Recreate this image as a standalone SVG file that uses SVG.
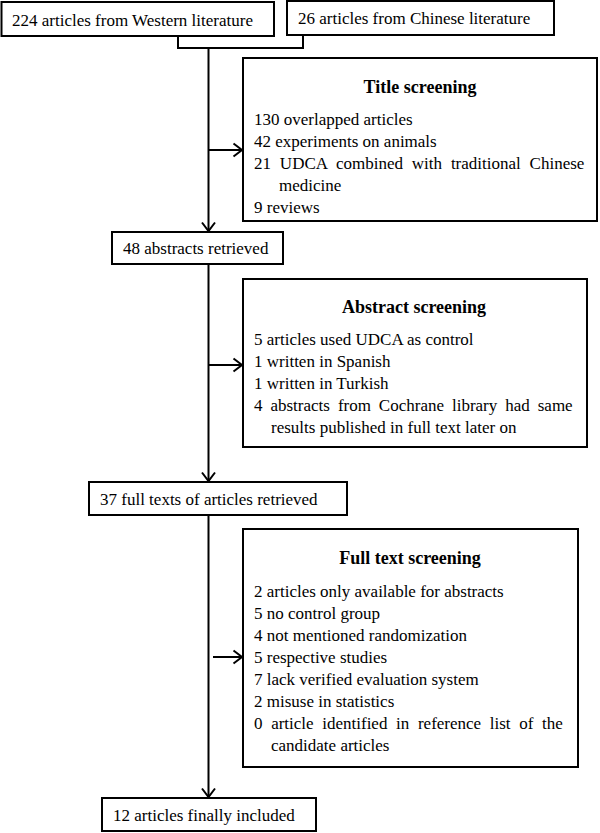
<svg xmlns="http://www.w3.org/2000/svg" width="600" height="833" viewBox="0 0 600 833">
<defs>
<style>
.box{fill:#fff;stroke:#000;stroke-width:2}
.t{font-size:17px;fill:#000}
.h{font-size:18px;font-weight:bold;fill:#000;text-anchor:middle}
.c{fill:none;stroke:#000;stroke-width:2}
</style>
<marker id="ah" markerUnits="userSpaceOnUse" markerWidth="12" markerHeight="16" refX="10" refY="8" orient="auto">
<path d="M1.5,1.5 L10,8 L1.5,14.5" fill="none" stroke="#000" stroke-width="2"/>
</marker>
</defs>
<rect width="600" height="833" fill="#fff"/>
<g id="connectors">
<path class="c" d="M178,36 V48 H303 V35"/>
<path class="c" d="M208.5,48 V231" marker-end="url(#ah)"/>
<path class="c" d="M208.5,150 H242" marker-end="url(#ah)"/>
<path class="c" d="M208.5,264 V481" marker-end="url(#ah)"/>
<path class="c" d="M208.5,365 H242" marker-end="url(#ah)"/>
<path class="c" d="M208.5,515 V797" marker-end="url(#ah)"/>
<path class="c" d="M213,657 H242" marker-end="url(#ah)"/>
</g>
<g font-family="Liberation Serif, Times New Roman, DejaVu Serif, serif">
<g id="western">
<rect class="box" x="1.5" y="2" width="272.5" height="34"/>
<text class="t" x="12" y="26">224 articles from Western literature</text>
</g>
<g id="chinese">
<rect class="box" x="287" y="1" width="267" height="34"/>
<text class="t" x="298" y="24">26 articles from Chinese literature</text>
</g>
<g id="title-screening">
<rect class="box" x="243" y="58" width="354" height="163"/>
<text class="h" x="420" y="93">Title screening</text>
<text class="t" x="254" y="125">130 overlapped articles</text>
<text class="t" x="254" y="147">42 experiments on animals</text>
<text class="t" x="254" y="169" word-spacing="4.6">21 UDCA combined with traditional Chinese</text>
<text class="t" x="279" y="191">medicine</text>
<text class="t" x="254" y="213">9 reviews</text>
</g>
<g id="abstracts-retrieved">
<rect class="box" x="112" y="232" width="171" height="32"/>
<text class="t" x="123" y="254">48 abstracts retrieved</text>
</g>
<g id="abstract-screening">
<rect class="box" x="243" y="279" width="344" height="168"/>
<text class="h" x="414" y="313">Abstract screening</text>
<text class="t" x="254" y="345">5 articles used UDCA as control</text>
<text class="t" x="254" y="367">1 written in Spanish</text>
<text class="t" x="254" y="389">1 written in Turkish</text>
<text class="t" x="254" y="411" word-spacing="3.7">4 abstracts from Cochrane library had same</text>
<text class="t" x="271" y="433">results published in full text later on</text>
</g>
<g id="fulltexts-retrieved">
<rect class="box" x="89" y="482" width="258" height="33"/>
<text class="t" x="100" y="505">37 full texts of articles retrieved</text>
</g>
<g id="fulltext-screening">
<rect class="box" x="243" y="529" width="335" height="238"/>
<text class="h" x="410" y="564">Full text screening</text>
<text class="t" x="254" y="597">2 articles only available for abstracts</text>
<text class="t" x="254" y="619">5 no control group</text>
<text class="t" x="254" y="641">4 not mentioned randomization</text>
<text class="t" x="254" y="663">5 respective studies</text>
<text class="t" x="254" y="685">7 lack verified evaluation system</text>
<text class="t" x="254" y="707">2 misuse in statistics</text>
<text class="t" x="254" y="729" word-spacing="4.4">0 article identified in reference list of the</text>
<text class="t" x="271" y="751">candidate articles</text>
</g>
<g id="included">
<rect class="box" x="102" y="798" width="214" height="33"/>
<text class="t" x="113" y="821">12 articles finally included</text>
</g>
</g>
</svg>
